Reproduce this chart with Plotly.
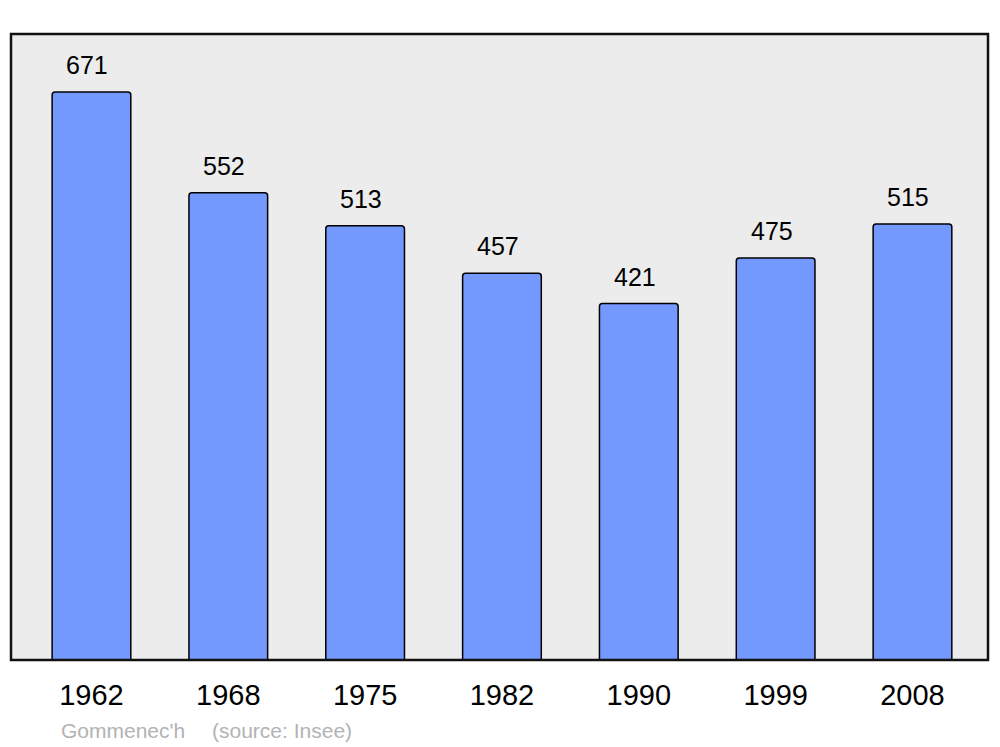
import plotly.graph_objects as go

years = ["1962", "1968", "1975", "1982", "1990", "1999", "2008"]
population = [671, 552, 513, 457, 421, 475, 515]
positions = list(range(len(years)))

fig = go.Figure()
fig.add_trace(go.Bar(
    x=positions, y=population, width=0.575,
    marker=dict(color="#7399ff", line=dict(color="#000000", width=1.5), cornerradius=3),
    hoverinfo="skip",
))

for xp, v in zip(positions, population):
    fig.add_annotation(x=xp - 0.03, y=v, text=str(v), showarrow=False,
                       yanchor="bottom", yshift=11,
                       font=dict(family="Liberation Sans, Arial", size=25, color="#000"))

fig.add_annotation(x=0.049, y=-0.112, xref="paper", yref="paper",
                   text="Gommenec'h", showarrow=False, xanchor="left", yanchor="middle",
                   font=dict(family="Liberation Sans, Arial", size=21, color="#b3b3b3"))
fig.add_annotation(x=0.204, y=-0.112, xref="paper", yref="paper",
                   text="(source: Insee)", showarrow=False, xanchor="left", yanchor="middle",
                   font=dict(family="Liberation Sans, Arial", size=21, color="#b3b3b3"))

fig.add_shape(type="rect", xref="paper", yref="paper", x0=0, x1=1, y0=0, y1=1,
              line=dict(color="#111111", width=2.5), layer="above")

fig.update_layout(
    width=992, height=739,
    margin=dict(l=3, r=12, t=26, b=87),
    paper_bgcolor="#ffffff", plot_bgcolor="#ececec",
    showlegend=False,
    xaxis=dict(range=[-0.588, 6.552], tickvals=positions, ticktext=years,
               showgrid=False, zeroline=False, ticks="", ticklabelstandoff=15,
               tickfont=dict(family="Liberation Sans, Arial", size=29, color="#000")),
    yaxis=dict(range=[0, 739.5], showgrid=False, zeroline=False, showticklabels=False, ticks=""),
)

fig.write_html("out.html")
